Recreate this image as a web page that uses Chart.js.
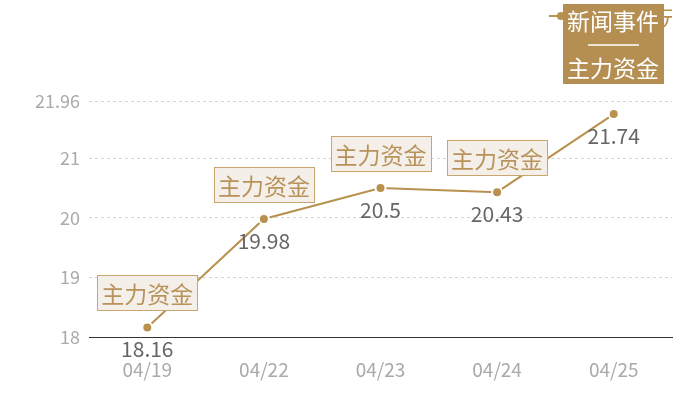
<!DOCTYPE html>
<html><head><meta charset="utf-8">
<script src="https://cdn.jsdelivr.net/npm/chart.js@4.4.1/dist/chart.umd.min.js"></script>
<style>html,body{margin:0;padding:0;background:#fff}#wrap{width:700px;height:400px}</style>
</head><body><div id="wrap"><canvas id="c" width="700" height="400"></canvas></div>
<script>
const categories = ['04/19','04/22','04/23','04/24','04/25'];
const prices = [18.16, 19.98, 20.5, 20.43, 21.74];
const yTicks = [18, 19, 20, 21, 21.96];
const eventLabels = ['主力资金','主力资金','主力资金','主力资金',''];
const seriesName = '元';
const legendTitle = '新闻事件';
const legendSub = '主力资金';

const FONT = '"Noto Sans CJK SC","Noto Sans",sans-serif';
Chart.defaults.font.family = FONT;
const GOLD = '#b8914f';

const overlay = {
  id: 'overlay',
  afterDatasetsDraw(chart) {
    const ctx = chart.ctx;
    const meta = chart.getDatasetMeta(0);
    ctx.save();
    // value labels
    ctx.font = '21px ' + FONT;
    ctx.fillStyle = '#666';
    ctx.textAlign = 'center';
    ctx.textBaseline = 'middle';
    meta.data.forEach((p, i) => {
      ctx.fillText(String(prices[i]), p.x, p.y + 22);
    });
    // event boxes
    ctx.font = '23px ' + FONT;
    meta.data.forEach((p, i) => {
      const t = eventLabels[i];
      if (!t) return;
      const w = ctx.measureText(t).width + 8;
      const h = 35;
      const bx = Math.round(p.x - w / 2) + 0.5;
      const by = Math.round(p.y - 17 - h) + 0.5;
      ctx.fillStyle = '#f4f0e9';
      ctx.fillRect(bx, by, w, h);
      ctx.strokeStyle = '#c9a56f';
      ctx.lineWidth = 1;
      ctx.strokeRect(bx, by, w, h);
      ctx.fillStyle = '#b8925a';
      ctx.fillText(t, p.x, by + h / 2 + 1);
    });
    // legend item (mostly hidden behind box)
    ctx.strokeStyle = GOLD;
    ctx.lineWidth = 2;
    ctx.beginPath(); ctx.moveTo(549, 16); ctx.lineTo(570, 16); ctx.stroke();
    ctx.fillStyle = GOLD;
    ctx.beginPath(); ctx.arc(561, 16, 4, 0, Math.PI * 2); ctx.fill();
    ctx.save();
    ctx.beginPath(); ctx.rect(0, 0, 672, 400); ctx.clip();
    ctx.font = '22px ' + FONT;
    ctx.textAlign = 'left';
    ctx.fillStyle = GOLD;
    ctx.fillText(seriesName, 660, 18);
    ctx.restore();
    // legend box
    ctx.fillStyle = '#b58f52';
    ctx.fillRect(563, 4, 101, 80);
    ctx.fillStyle = '#fff';
    ctx.font = '23px ' + FONT;
    ctx.textAlign = 'center';
    ctx.fillText(legendTitle, 613, 21);
    ctx.strokeStyle = '#fff';
    ctx.lineWidth = 1.5;
    ctx.beginPath(); ctx.moveTo(588, 45); ctx.lineTo(639, 45); ctx.stroke();
    ctx.fillText(legendSub, 613, 68);
    ctx.restore();
  }
};

new Chart(document.getElementById('c'), {
  type: 'line',
  data: {
    labels: categories,
    datasets: [{
      label: seriesName,
      data: prices,
      borderColor: GOLD,
      borderWidth: 2,
      pointRadius: 5,
      pointBackgroundColor: GOLD,
      pointBorderColor: '#fff',
      pointBorderWidth: 2,
      tension: 0
    }]
  },
  options: {
    responsive: false,
    animation: false,
    layout: { padding: { top: 101, right: 28, left: 0, bottom: 0 } },
    plugins: { legend: { display: false }, tooltip: { enabled: false } },
    scales: {
      x: {
        offset: true,
        grid: { display: false, drawTicks: false },
        border: { display: true, color: '#333', width: 1 },
        ticks: { color: '#aaa', font: { size: 19 }, padding: 21 },
        afterFit(s) { s.height = 63; }
      },
      y: {
        min: 18, max: 21.96,
        afterBuildTicks(s) { s.ticks = yTicks.map(v => ({ value: v })); },
        grid: { color: '#d3d3d3', drawTicks: false },
        border: { display: false, dash: [3, 3] },
        ticks: { color: '#aaa', font: { size: 18 }, padding: 9, callback: v => String(v) },
        afterFit(s) { s.width = 89; }
      }
    }
  },
  plugins: [overlay]
});
</script>
</body></html>
